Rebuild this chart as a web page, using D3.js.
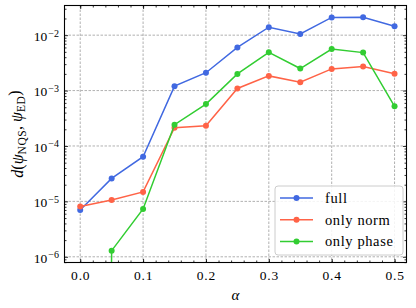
<!DOCTYPE html>
<html lang="en">
<head>
	<meta charset="UTF-8">
	<script type="text/javascript" src="https://cdnjs.cloudflare.com/ajax/libs/d3/7.8.5/d3.min.js"></script>
	<title>Distance</title>
	<style>
		body { margin: 0; background: #fff; }
		text { font-family: "Liberation Serif", "DejaVu Serif", serif; fill: #000; }
	</style>
</head>
<body>
	<div id="draw-here"></div>
	<script>
		/*Data*/
		var alphas = [0.0, 0.05, 0.1, 0.15, 0.2, 0.25, 0.3, 0.35, 0.4, 0.45, 0.5];
		var full = [7.0e-6, 2.6e-5, 6.4e-5, 1.2e-3, 2.1e-3, 6.0e-3, 1.39e-2, 1.05e-2, 2.09e-2, 2.1e-2, 1.45e-2];
		var onlyNorm = [8.1e-6, 1.06e-5, 1.48e-5, 2.14e-4, 2.32e-4, 1.09e-3, 1.84e-3, 1.42e-3, 2.46e-3, 2.71e-3, 2.02e-3];
		var onlyPhase = [0, 1.29e-6, 7.3e-6, 2.42e-4, 5.7e-4, 2.0e-3, 4.9e-3, 2.5e-3, 5.6e-3, 4.84e-3, 5.2e-4];
		var seriesNames = ["full", "only norm", "only phase"];
		var xTicks = [0.0, 0.1, 0.2, 0.3, 0.4, 0.5];
		var yTicks = [1e-6, 1e-5, 1e-4, 1e-3, 1e-2];

		var w = 416;
		var h = 308;
		/*plot area edges (not named top/left: window.top is read-only)*/
		var pl = 64.5, pr = 406.5, pt = 5.5, pb = 262.5;
		var colors = ["#4169e1", "#ff6347", "#32cd32"];

		var svg = d3.select("#draw-here")
			.append("svg")
			.attr("width", w)
			.attr("height", h);

		var x = d3.scaleLinear().domain([-0.025, 0.519]).range([pl, pr]);
		var y = d3.scaleLog().domain([7.89e-7, 3.43e-2]).range([pb, pt]);

		/*minor ticks*/
		var xMinor = d3.range(0, 26).map(function(i) { return i * 0.02; });
		var yMinor = [];
		for (var e = -7; e <= -2; e++) {
			for (var m = 2; m <= 9; m++) {
				var v = m * Math.pow(10, e);
				if (v > y.domain()[0] && v < y.domain()[1]) yMinor.push(v);
			}
		}

		svg.append("clipPath").attr("id", "clip")
			.append("rect")
			.attr("x", pl).attr("y", pt)
			.attr("width", pr - pl).attr("height", pb - pt);

		/*grid*/
		var grid = svg.append("g")
			.attr("stroke", "#a8a8a8")
			.attr("stroke-width", 0.9)
			.attr("stroke-dasharray", "2.5,1.5");
		grid.selectAll(".gx").data(xTicks).enter().append("line")
			.attr("x1", function(d) { return x(d); }).attr("x2", function(d) { return x(d); })
			.attr("y1", pt).attr("y2", pb);
		grid.selectAll(".gy").data(yTicks).enter().append("line")
			.attr("y1", function(d) { return y(d); }).attr("y2", function(d) { return y(d); })
			.attr("x1", pl).attr("x2", pr);

		/*axes with inward ticks on all four sides*/
		function styleAxis(g) {
			g.select(".domain").remove();
			g.selectAll("line").attr("stroke", "#000").attr("stroke-width", 0.8);
			g.selectAll("text").attr("font-size", "13.5px").attr("letter-spacing", "0.8px");
		}
		svg.append("g").attr("transform", "translate(0," + pb + ")")
			.call(d3.axisBottom(x).tickValues(xTicks).tickSizeInner(-3.5).tickPadding(8).tickFormat(d3.format(".1f")))
			.call(styleAxis);
		svg.append("g").attr("transform", "translate(0," + pb + ")")
			.call(d3.axisBottom(x).tickValues(xMinor).tickSizeInner(-2).tickFormat(""))
			.call(styleAxis);
		svg.append("g").attr("transform", "translate(0," + pt + ")")
			.call(d3.axisTop(x).tickValues(xTicks).tickSizeInner(-3.5).tickFormat(""))
			.call(styleAxis);
		svg.append("g").attr("transform", "translate(0," + pt + ")")
			.call(d3.axisTop(x).tickValues(xMinor).tickSizeInner(-2).tickFormat(""))
			.call(styleAxis);

		var yAxis = svg.append("g").attr("transform", "translate(" + pl + ",0)")
			.call(d3.axisLeft(y).tickValues(yTicks).tickSizeInner(-3.5).tickFormat(""))
			.call(styleAxis);
		svg.append("g").attr("transform", "translate(" + pl + ",0)")
			.call(d3.axisLeft(y).tickValues(yMinor).tickSizeInner(-2).tickFormat(""))
			.call(styleAxis);
		svg.append("g").attr("transform", "translate(" + pr + ",0)")
			.call(d3.axisRight(y).tickValues(yTicks).tickSizeInner(-3.5).tickFormat(""))
			.call(styleAxis);
		svg.append("g").attr("transform", "translate(" + pr + ",0)")
			.call(d3.axisRight(y).tickValues(yMinor).tickSizeInner(-2).tickFormat(""))
			.call(styleAxis);

		/*10^n labels*/
		yAxis.selectAll(".tick").append("text")
			.attr("x", -5.5)
			.attr("dy", "0.4em")
			.attr("text-anchor", "end")
			.attr("font-size", "13.5px")
			.each(function(d) {
				var t = d3.select(this);
				t.append("tspan").text("10");
				t.append("tspan").attr("dy", "-0.45em").attr("font-size", "10px").attr("dx", "1")
					.text("\u2212" + Math.round(-Math.log10(d)));
			});

		/*lines and markers*/
		var allSeries = [full, onlyNorm, onlyPhase];
		var line = d3.line()
			.x(function(d, i) { return x(alphas[i]); })
			.y(function(d) { return y(d > 0 ? d : 1e-60); });
		var plot = svg.append("g").attr("clip-path", "url(#clip)");
		allSeries.forEach(function(s, k) {
			plot.append("path")
				.attr("d", line(s))
				.attr("fill", "none")
				.attr("stroke", colors[k])
				.attr("stroke-width", 1.5);
			var pts = s.map(function(d, i) { return [alphas[i], d]; })
				.filter(function(p) { return p[1] > 0; });
			plot.selectAll(".m" + k).data(pts).enter()
				.append("circle")
				.attr("cx", function(p) { return x(p[0]); })
				.attr("cy", function(p) { return y(p[1]); })
				.attr("r", 3)
				.attr("fill", colors[k]);
		});

		/*frame*/
		svg.append("rect")
			.attr("x", pl).attr("y", pt)
			.attr("width", pr - pl).attr("height", pb - pt)
			.attr("fill", "none").attr("stroke", "#000").attr("stroke-width", 1.1);

		/*legend*/
		var lg = svg.append("g").attr("transform", "translate(275,186)");
		lg.append("rect")
			.attr("width", 128).attr("height", 69).attr("rx", 3)
			.attr("fill", "#fff").attr("fill-opacity", 0.85)
			.attr("stroke", "#cccccc").attr("stroke-width", 1);
		seriesNames.forEach(function(name, k) {
			var yy = 12 + k * 21.8;
			lg.append("line").attr("x1", 5).attr("x2", 38).attr("y1", yy).attr("y2", yy)
				.attr("stroke", colors[k]).attr("stroke-width", 1.5);
			lg.append("circle").attr("cx", 21.5).attr("cy", yy).attr("r", 3).attr("fill", colors[k]);
			lg.append("text").attr("x", 50).attr("y", yy).attr("dy", "0.33em")
				.attr("font-size", "14.5px").attr("letter-spacing", "0.6px").text(name);
		});

		/*axis titles*/
		svg.append("text")
			.attr("x", (pl + pr) / 2).attr("y", 300)
			.attr("text-anchor", "middle")
			.attr("font-size", "15px").attr("font-style", "italic")
			.text("\u03b1");

		var yl = svg.append("text")
			.attr("transform", "translate(23," + ((pt + pb) / 2) + ") rotate(-90)")
			.attr("text-anchor", "middle")
			.attr("font-size", "16px");
		yl.append("tspan").attr("font-style", "italic").text("d");
		yl.append("tspan").text("(");
		yl.append("tspan").attr("font-style", "italic").text("\u03c8");
		yl.append("tspan").attr("font-size", "11.5px").attr("dy", "0.3em").attr("letter-spacing", "0.5px").text("NQS");
		yl.append("tspan").attr("dy", "-0.3em").text(", ");
		yl.append("tspan").attr("font-style", "italic").text("\u03c8");
		yl.append("tspan").attr("font-size", "11.5px").attr("dy", "0.3em").attr("letter-spacing", "0.5px").text("ED");
		yl.append("tspan").attr("dy", "-0.3em").text(")");
	</script>
</body>
</html>
